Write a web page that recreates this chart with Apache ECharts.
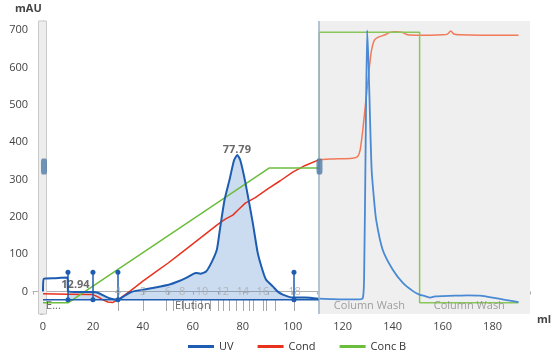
<!DOCTYPE html>
<html>
<head>
<meta charset="utf-8">
<script src="https://cdn.jsdelivr.net/npm/echarts@6/dist/echarts.min.js"></script>
<style>
  html, body { margin: 0; padding: 0; background: #fff; }
  #chart { width: 553px; height: 356px; }
</style>
</head>
<body>
<div id="chart"></div>
<script>
// run block boundary (ml) and fraction baseline (mAU)
const washStart = 110.4
const baseline = -22

// UV curve, elution part and column wash part
const uvElution = [[0, 0], [0.3, 34], [5, 36], [9.8, 38], [10, 1], [15, -1], [20, -1], [22, -3], [24.7, -12],
  [27.3, -19], [30, -22], [32, -14], [34.7, -3], [37, 2], [40, 5], [45, 11], [50.7, 19], [54, 27], [57.3, 37],
  [60, 47], [61.3, 50], [63, 48], [65.3, 54], [67.4, 77], [69.6, 112], [70.7, 160], [72.7, 246], [74.7, 300],
  [76.5, 352], [77.8, 366], [79, 352], [81.1, 290], [84, 184], [86, 103], [88, 55], [89.3, 32], [92, 14],
  [94, 0], [96, -8], [100, -16], [105, -16], [110.4, -19]]
const uvWash = [[110.4, -19], [115, -20], [120, -21], [125, -21], [128, -18], [128.6, 50], [129.2, 400],
  [129.8, 700], [130.4, 600], [131, 450], [131.6, 325], [132.5, 250], [133.4, 192], [136, 112], [140, 59],
  [144, 24], [148, 2], [150.7, -8], [153, -12], [155, -16], [157, -13], [160, -12], [165, -11], [170, -10],
  [175, -11], [180, -16], [185, -22], [190.4, -28]]

// conductivity
const condElution = [[0, -6], [10, -7], [20, -8], [22, -14], [24, -22], [26, -28], [28, -29], [30, -22],
  [35, 2], [40, 28], [45, 52], [50, 76], [55, 102], [60, 128], [65, 154], [70, 180], [73, 194], [76, 205],
  [78, 218], [81, 237], [85, 252], [90, 275], [95, 297], [100, 320], [105, 338], [110.4, 353]]
const condWash = [[110.4, 353], [115, 355], [120, 356], [124, 357], [126, 362], [127, 380], [128, 430],
  [129.3, 513], [130.7, 602], [131.5, 645], [132.7, 674], [134.7, 683], [137, 688], [138.7, 694], [141, 696],
  [144, 694], [146, 688], [150, 687], [155, 687], [160, 688], [162, 690], [163.3, 698], [164.5, 690],
  [167, 688], [175, 687], [185, 687], [190.4, 687]]

// concentration B
const concElution = [[0, -30], [10, -30], [90.5, 331], [110.6, 331]]
const concWash = [[110.6, 331], [110.6, 695], [150.8, 695], [150.8, -30], [190.4, -30]]

// event marks, fractions and block texts
const eventX = [10, 20, 30, 100.5]
const eventTop = 52
const fracTickX = [30, 40, 49.3, 52, 56, 60, 63.3, 67, 70, 72, 74.7, 77.3, 80, 82.5, 84, 88, 89.3, 93, 100.5]
const fracTickBottom = -52
const fracLabels = ['4', '5', '6', '8', '10', '12', '14', '16', '18']
const fracLabelX = [30, 40, 50, 55.7, 63.7, 72, 80, 88, 100.7]
const blockNames = ['E...', 'Elution', 'Column Wash', 'Column Wash']
const blockX = [4.2, 60, 130.7, 170.7]
const blockY = -37
const peakNames = ['12.94', '77.79']
const peakPos = [[13, 19], [77.6, 381]]
const handlePos = [[0.4, 335], [110.7, 335]]

const font = 'Open Sans'
const smooth = 0.2
const chart = echarts.init(document.getElementById('chart'))

chart.setOption({
  animation: false,
  textStyle: { fontFamily: font },
  grid: { left: 33, right: 23, top: 21, bottom: 42 },
  graphic: [
    { type: 'text', left: 15, top: 3, style: { text: 'mAU', font: 'bold 11px "Open Sans"', fill: '#444' } },
    { type: 'text', left: 537, top: 314, style: { text: 'ml', font: 'bold 11px "Open Sans"', fill: '#444' } }
  ],
  legend: {
    data: ['UV', 'Cond', 'Conc B'],
    left: 183,
    top: 336,
    icon: 'rect',
    itemWidth: 26,
    itemHeight: 3,
    itemGap: 24,
    textStyle: { fontSize: 11, color: '#333', fontFamily: font }
  },
  xAxis: {
    type: 'value',
    min: -4,
    max: 195,
    splitNumber: 10,
    axisLine: { show: true, lineStyle: { color: '#b0b0b0' } },
    axisTick: { show: true, length: 3, lineStyle: { color: '#b0b0b0' } },
    minorTick: { show: true, splitNumber: 2, length: 3, lineStyle: { color: '#b0b0b0' } },
    splitLine: { show: false },
    axisLabel: {
      fontSize: 11, color: '#444', margin: 7,
      showMinLabel: false, showMaxLabel: false,
      formatter: v => (v % 20 === 0 ? String(v) : '')
    }
  },
  yAxis: {
    type: 'value',
    min: -60,
    max: 725,
    splitNumber: 8,
    axisLine: { show: true, lineStyle: { color: '#b0b0b0' } },
    axisTick: { show: true, length: 3, lineStyle: { color: '#b0b0b0' } },
    minorTick: { show: true, splitNumber: 2, length: 3, lineStyle: { color: '#b0b0b0' } },
    splitLine: { show: false },
    axisLabel: {
      fontSize: 11, color: '#444', margin: 5,
      showMinLabel: false, showMaxLabel: false,
      formatter: v => (v % 100 === 0 ? String(v) : '')
    }
  },
  series: [
    {
      // shaded column wash block and the slim band at 0
      type: 'line',
      z: 1,
      data: [],
      silent: true,
      markArea: {
        silent: true,
        data: [
          [{ xAxis: washStart, itemStyle: { color: '#efefef' } }, { xAxis: 195 }],
          [{ xAxis: -1.8, itemStyle: { color: '#ededed', borderColor: '#c9c9c9', borderWidth: 1 } }, { xAxis: 1.4 }]
        ]
      },
      markLine: {
        silent: true,
        symbol: 'none',
        label: { show: false },
        lineStyle: { color: '#9fb2ca', width: 1.5, type: 'solid' },
        data: [{ xAxis: washStart }]
      }
    },
    {
      name: 'UV',
      type: 'line',
      z: 4,
      data: uvElution,
      showSymbol: false,
      smooth: smooth,
      color: '#1d5cb0',
      lineStyle: { width: 2, color: '#1d5cb0' }
    },
    {
      name: 'Cond',
      type: 'line',
      z: 3,
      data: condElution,
      showSymbol: false,
      color: '#e8321e',
      lineStyle: { width: 1.5, color: '#e8321e' }
    },
    {
      name: 'Conc B',
      type: 'line',
      z: 3,
      data: concElution,
      showSymbol: false,
      color: '#6cbd3d',
      lineStyle: { width: 1.5, color: '#6cbd3d' }
    },
    {
      name: 'UV',
      type: 'line',
      z: 2,
      data: uvElution.filter(p => p[0] >= 10),
      showSymbol: false,
      smooth: smooth,
      lineStyle: { width: 0 },
      areaStyle: { origin: baseline, color: 'rgba(70,130,200,0.4)' }
    },
    {
      name: 'UV',
      type: 'line',
      z: 4,
      data: uvWash,
      showSymbol: false,
      smooth: smooth,
      lineStyle: { width: 1.8, color: '#4a8ad4' }
    },
    {
      name: 'Cond',
      type: 'line',
      z: 3,
      data: condWash,
      showSymbol: false,
      smooth: smooth,
      lineStyle: { width: 1.5, color: '#f07a5a' }
    },
    {
      name: 'Conc B',
      type: 'line',
      z: 3,
      data: concWash,
      showSymbol: false,
      lineStyle: { width: 1.5, color: '#8ac65a' }
    },
    {
      // fraction baseline, fraction ticks and event marks
      type: 'line',
      z: 5,
      data: [[0, baseline], [washStart, baseline]],
      showSymbol: false,
      silent: true,
      lineStyle: { width: 1.5, color: '#1d5cb0' },
      markLine: {
        silent: true,
        animation: false,
        label: { show: false },
        data: fracTickX.map(x => [
          { coord: [x, baseline], symbol: 'none', lineStyle: { color: '#a8a8a8', width: 1, type: 'solid' } },
          { coord: [x, fracTickBottom], symbol: 'none' }
        ]).concat(eventX.map(x => [
          { coord: [x, baseline], symbol: 'circle', symbolSize: 5, lineStyle: { color: '#1d5cb0', width: 1.5, type: 'solid' } },
          { coord: [x, eventTop], symbol: 'circle', symbolSize: 5 }
        ]))
      }
    },
    {
      // fraction numbers
      type: 'scatter',
      z: 6,
      silent: true,
      symbolSize: 0,
      data: fracLabels.map((t, i) => ({ value: [fracLabelX[i], 0], name: t })),
      label: { show: true, position: 'inside', formatter: '{b}', fontSize: 11, color: '#aaa', fontFamily: font }
    },
    {
      // block names
      type: 'scatter',
      z: 6,
      silent: true,
      symbolSize: 0,
      data: blockNames.map((t, i) => ({
        value: [blockX[i], blockY],
        name: t,
        label: { color: blockX[i] > washStart ? '#8a8a8a' : '#444' }
      })),
      label: { show: true, position: 'inside', formatter: '{b}', fontSize: 11, fontFamily: font }
    },
    {
      // peak retention labels
      type: 'scatter',
      z: 6,
      silent: true,
      symbolSize: 0,
      data: peakNames.map((t, i) => ({ value: peakPos[i], name: t })),
      label: { show: true, position: 'inside', formatter: '{b}', fontSize: 11, color: '#444', fontWeight: 'bold', fontFamily: font }
    },
    {
      // block slider handles
      type: 'scatter',
      z: 7,
      silent: true,
      symbol: 'roundRect',
      symbolSize: [6, 16],
      data: handlePos,
      itemStyle: { color: '#4f7aa6' }
    }
  ]
})
</script>
</body>
</html>
